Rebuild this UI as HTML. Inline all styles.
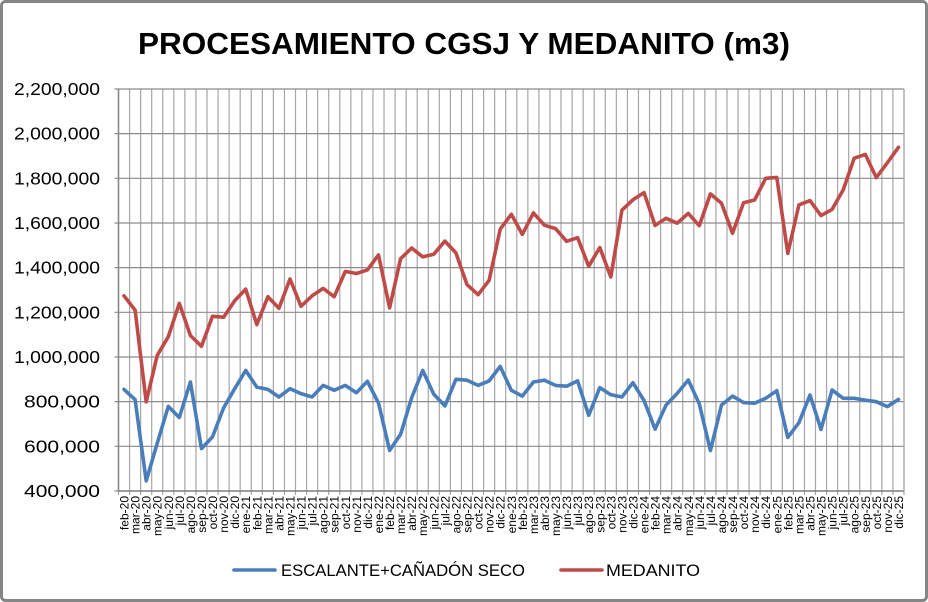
<!DOCTYPE html>
<html><head><meta charset="utf-8">
<style>
html,body{margin:0;padding:0;background:#fff;}
svg{display:block;font-family:"Liberation Sans",sans-serif;}
</style></head>
<body>
<svg id="c" width="928" height="602" viewBox="0 0 928 602" xmlns="http://www.w3.org/2000/svg">
<rect x="1.5" y="1.5" width="925" height="599" rx="4" fill="#fff" stroke="#868686" stroke-width="3"/>
<text x="464" y="54" text-anchor="middle" font-size="31" font-weight="bold" textLength="652" lengthAdjust="spacingAndGlyphs">PROCESAMIENTO CGSJ Y MEDANITO (m3)</text>
<g id="grid"></g>
<g id="ylab" font-size="17.5" text-anchor="end"></g>
<g id="xlab" font-size="12"></g>
<polyline id="blue" fill="none" stroke="#4a7ebb" stroke-width="3.6" stroke-linejoin="round" stroke-linecap="round"/>
<polyline id="red" fill="none" stroke="#be4b48" stroke-width="3.6" stroke-linejoin="round" stroke-linecap="round"/>
<line x1="234" y1="570" x2="275" y2="570" stroke="#4a7ebb" stroke-width="3.6" stroke-linecap="round"/>
<text x="281" y="576" font-size="17" textLength="244" lengthAdjust="spacingAndGlyphs">ESCALANTE+CAÑADÓN SECO</text>
<line x1="561" y1="570" x2="602" y2="570" stroke="#be4b48" stroke-width="3.6" stroke-linecap="round"/>
<text x="606" y="576" font-size="17" textLength="94" lengthAdjust="spacingAndGlyphs">MEDANITO</text>
</svg>
<script>
var NS="http://www.w3.org/2000/svg";
var x0=118.5,x1=904,bottom=491,n=71,w=(x1-x0)/n,ppu=44.67/200;
function Y(v){return bottom-(v-400)*ppu;}
function X(i){return x0+w*(i+0.5);}
var grid=document.getElementById('grid'),yl=document.getElementById('ylab'),xl=document.getElementById('xlab');
function el(t,a,p,txt){var e=document.createElementNS(NS,t);for(var k in a)e.setAttribute(k,a[k]);if(txt)e.textContent=txt;p.appendChild(e);return e;}
for(var i=0;i<=n;i++){var x=x0+w*i;el('line',{x1:x,y1:Y(2200),x2:x,y2:bottom+4,stroke:'#a6a6a6','stroke-width':1.2},grid);}
for(var v=400;v<=2200;v+=200){var y=Y(v);el('line',{x1:x0-4,y1:y,x2:x1,y2:y,stroke:'#8c8c8c','stroke-width':1.2},grid);
 var s=String(v*1000).replace(/\B(?=(\d{3})+(?!\d))/g,',');
 el('text',{x:100,y:y+6,textLength:(v>=1000?86:76),lengthAdjust:'spacingAndGlyphs'},yl,s);}
el('line',{x1:x0,y1:Y(2200),x2:x0,y2:bottom,stroke:'#868686','stroke-width':1.5},grid);
el('line',{x1:x0,y1:bottom,x2:x1,y2:bottom,stroke:'#868686','stroke-width':1.5},grid);
el('line',{x1:x1,y1:Y(2200),x2:x1,y2:bottom,stroke:'#a6a6a6','stroke-width':1.2},grid);
var m=['ene','feb','mar','abr','may','jun','jul','ago','sep','oct','nov','dic'];
for(var i=0;i<n;i++){var mi=(i+1)%12,yr=20+Math.floor((i+1)/12);var x=X(i)+4.5;
 el('text',{x:0,y:0,transform:'translate('+x+',496) rotate(-90)','text-anchor':'end'},xl,m[mi]+'-'+yr);}
var blue=[855,809,445,613,779,729,888,590,642,772,858,940,865,855,821,858,836,821,873,851,873,840,891,794,582,654,818,940,833,781,900,896,873,893,958,851,825,888,896,873,869,893,739,863,831,821,885,805,677,785,837,897,790,581,785,825,796,793,815,849,640,706,830,676,852,815,815,807,800,778,810];
var red=[1274,1210,799,1007,1091,1240,1096,1048,1182,1178,1252,1304,1145,1270,1218,1349,1227,1274,1307,1270,1383,1374,1390,1457,1220,1440,1488,1448,1460,1519,1466,1324,1279,1343,1572,1639,1549,1645,1590,1575,1518,1534,1406,1490,1358,1657,1704,1736,1589,1621,1599,1643,1588,1730,1688,1554,1691,1703,1800,1804,1464,1681,1700,1633,1661,1748,1890,1907,1803,1870,1939];
function pts(a){return a.map(function(v,i){return X(i).toFixed(1)+','+Y(v).toFixed(1);}).join(' ');}
document.getElementById('blue').setAttribute('points',pts(blue));
document.getElementById('red').setAttribute('points',pts(red));
</script>
</body></html>
